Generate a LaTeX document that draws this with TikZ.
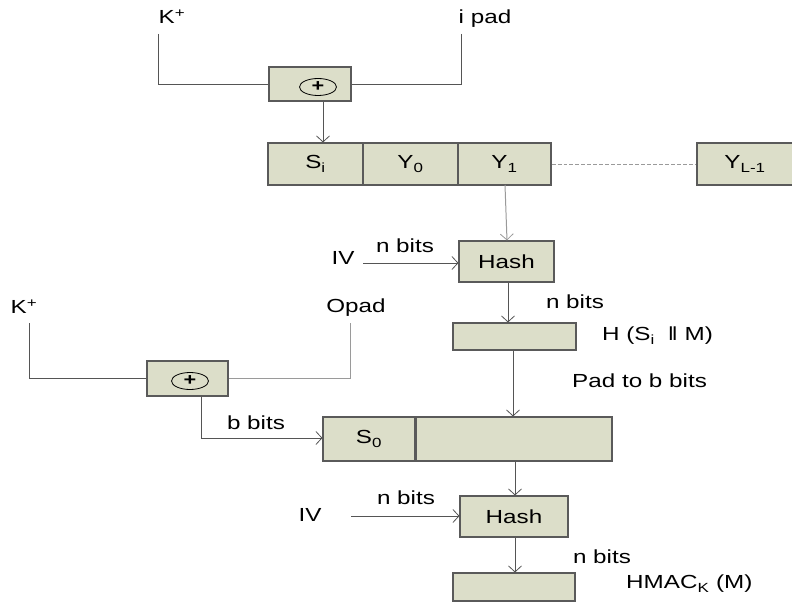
\documentclass[tikz,border=0pt]{standalone}
\usepackage{fontspec}
\setmainfont[FakeStretch=1.28]{Liberation Sans}
\usetikzlibrary{arrows.meta,shapes.geometric}
\definecolor{boxfill}{HTML}{DCDEC9}
\definecolor{boxedge}{HTML}{5A5A5A}
\definecolor{wire}{HTML}{555555}
\definecolor{lightwire}{HTML}{9A9A9A}
\tikzset{
  blk/.style={draw=boxedge, fill=boxfill, line width=1.1pt, inner sep=0pt, font=\fontsize{19}{19}\selectfont},
  lbl/.style={inner sep=0pt, font=\fontsize{19}{19}\selectfont},
  wr/.style={draw=wire, line width=1pt},
  ar/.style={draw=wire, line width=1pt, -{Straight Barb[length=6bp,width=13bp,line width=0.8pt]}},
  xorsym/.style={ellipse, draw=black, line width=0.8pt, minimum width=37bp, minimum height=17bp, inner sep=0pt, font=\fontsize{17}{17}\selectfont\bfseries},
}
\begin{document}
\begin{tikzpicture}[x=1bp,y=-1bp]
\useasboundingbox (0,0) rectangle (792,602);
% ---------- inner part ----------
\node[blk, minimum width=82bp, minimum height=34bp] (xor1) at (310,84) {};
\node[xorsym] (p1) at (318,87) {+};
\node[lbl] (k1) at (172,17) {K\textsuperscript{+}};
\node[lbl] (ipad) at (485,19) {i pad};
\coordinate (k1c) at (158,34);
\coordinate (ipc) at (461,34);
\draw[wr] (k1c) |- (xor1.west);
\draw[wr] (ipc) |- (xor1.east);

\node[blk, minimum width=95bp, minimum height=42bp] (si) at (315.5,164) {S\textsubscript{i}};
\node[blk, minimum width=95bp, minimum height=42bp] (y0) at (410.5,164) {Y\textsubscript{0}};
\node[blk, minimum width=93bp, minimum height=42bp] (y1) at (504.5,164) {Y\textsubscript{1}};
\node[blk, minimum width=96bp, minimum height=42bp] (yl) at (745,164) {Y\textsubscript{L-1}};
\draw[lightwire, line width=0.8pt, dashed, dash pattern=on 4pt off 2pt] (y1.east) -- (yl.west);
\draw[ar] (xor1.south -| 323,0) -- (si.north -| 323,0);

\node[blk, minimum width=95bp, minimum height=41bp] (h1) at (506.5,261.5) {Hash};
\draw[ar, draw=lightwire] (505,185) -- (h1.north -| 507,0);
\node[lbl] (iv1) at (343,258) {IV};
\coordinate (iv1s) at (363,263);
\draw[ar] (iv1s) -- (h1.west |- iv1s);
\node[lbl] (nb1) at (405,246) {n bits};

\node[blk, minimum width=123bp, minimum height=27bp] (hm) at (514.5,336.5) {};
\draw[ar] (h1.south -| 508,0) -- (hm.north -| 508,0);
\node[lbl] (nb2) at (575,302) {n bits};
\node[lbl, anchor=west] (hmt) at (602,336) {H (S\textsubscript{i}\,\, ‖ M)};
\node[lbl, anchor=west] (pad) at (572,381) {Pad to b bits};

% ---------- outer part ----------
\node[blk, minimum width=81bp, minimum height=35bp] (xor2) at (187.5,378.5) {};
\node[xorsym] (p2) at (190,381) {+};
\node[lbl] (k2) at (24,307) {K\textsuperscript{+}};
\node[lbl] (opad) at (356,308) {Opad};
\coordinate (k2c) at (29,323);
\coordinate (opc) at (350,323);
\draw[wr] (k2c) |- (xor2.west);
\draw[lightwire, line width=0.9pt] (opc) |- (xor2.east);

\node[blk, minimum width=92bp, minimum height=44bp] (s0) at (369,439) {S\textsubscript{0}};
\node[blk, minimum width=197bp, minimum height=44bp] (rest) at (513.5,439) {};
\draw[boxedge, line width=2pt] (s0.north east) -- (s0.south east);
\coordinate (bb) at (201,438);
\draw[ar] (xor2.south -| 201,0) -- (bb) -- (s0.west |- bb);
\node[lbl] (bbits) at (256,423) {b bits};
\draw[ar] (hm.south -| 513,0) -- (rest.north -| 513,0);

\node[blk, minimum width=108bp, minimum height=41bp] (h2) at (514,516.5) {Hash};
\draw[ar] (rest.south -| 515,0) -- (h2.north -| 515,0);
\node[lbl] (iv2) at (310,515) {IV};
\coordinate (iv2s) at (351,516);
\draw[ar] (iv2s) -- (h2.west |- iv2s);
\node[lbl] (nb3) at (406,498) {n bits};

\node[blk, minimum width=122bp, minimum height=28bp] (out) at (514,587) {};
\draw[ar] (h2.south -| 515,0) -- (out.north -| 515,0);
\node[lbl] (nb4) at (602,557) {n bits};
\node[lbl, anchor=west] (hmac) at (626,584) {HMAC\textsubscript{K} (M)};
\end{tikzpicture}
\end{document}
